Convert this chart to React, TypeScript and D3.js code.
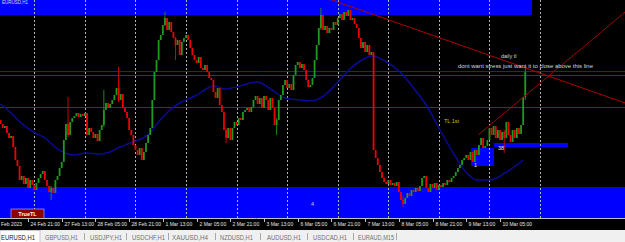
import React from "react";
import * as d3 from "d3";

const W = 625;
const H = 242;

// Hourly closes, EURUSD H1 (bar 0 = 24 Feb 08:00)
const OPEN0 = 1.06;
const CLOSES = [
  1.0596, 1.0592, 1.0594, 1.0587, 1.0582, 1.0584, 1.0573, 1.056, 1.0554, 1.054,
  1.0544, 1.0536, 1.0542, 1.0532, 1.054, 1.0535, 1.053, 1.0537, 1.0542, 1.0546,
  1.0549, 1.054, 1.0534, 1.0528, 1.0532, 1.0527, 1.054, 1.0544, 1.0552, 1.0558,
  1.058, 1.0596, 1.0585, 1.0598, 1.0602, 1.0604, 1.0607, 1.0603, 1.0606, 1.0604,
  1.0607, 1.0585, 1.0592, 1.0588, 1.0582, 1.0586, 1.0579, 1.059, 1.0595, 1.061,
  1.0617, 1.0612, 1.0616, 1.062, 1.0625, 1.0632, 1.062, 1.0626, 1.0612, 1.0608,
  1.0602, 1.059, 1.0585, 1.0575, 1.057, 1.0565, 1.0572, 1.056, 1.0568, 1.0577,
  1.0585, 1.0592, 1.062, 1.0648, 1.066, 1.068, 1.0685, 1.0695, 1.0702, 1.069,
  1.0698, 1.0688, 1.0682, 1.0675, 1.068, 1.0665, 1.0678, 1.0682, 1.0685, 1.068,
  1.0672, 1.0665, 1.066, 1.0657, 1.0663, 1.0652, 1.065, 1.0655, 1.0648, 1.0642,
  1.064, 1.0628, 1.0622, 1.0632, 1.0615, 1.0608, 1.059, 1.0582, 1.0592, 1.058,
  1.0592, 1.0598, 1.0595, 1.0602, 1.06, 1.0608, 1.061, 1.0612, 1.0608, 1.0613,
  1.062, 1.0624, 1.0616, 1.0622, 1.0612, 1.0624, 1.062, 1.061, 1.0622, 1.0612,
  1.0595, 1.06, 1.062, 1.0625, 1.0635, 1.064, 1.0632, 1.0636, 1.063, 1.0645,
  1.0655, 1.0658, 1.0652, 1.0656, 1.065, 1.064, 1.0633, 1.0635, 1.0642, 1.066,
  1.0675, 1.0692, 1.0705, 1.069, 1.0694, 1.0687, 1.0692, 1.069, 1.0698, 1.0695,
  1.0702, 1.0706, 1.07, 1.0708, 1.0704, 1.071, 1.07, 1.0702, 1.0696, 1.0692,
  1.0682, 1.0672, 1.0678, 1.0668, 1.0675, 1.0665, 1.0668, 1.057, 1.0562, 1.0555,
  1.0548, 1.0542, 1.0538, 1.0536, 1.054, 1.0535, 1.0537, 1.0534, 1.0538, 1.0528,
  1.052, 1.0516, 1.0522, 1.0527, 1.0524, 1.053, 1.0528, 1.0532, 1.0529, 1.0534,
  1.0542, 1.0544, 1.0532, 1.0528, 1.0536, 1.0532, 1.0537, 1.053, 1.0535, 1.0533,
  1.0537, 1.0535, 1.054, 1.0538, 1.0542, 1.0544, 1.0548, 1.0552, 1.0555, 1.056,
  1.0562, 1.0565, 1.056, 1.0568, 1.0558, 1.057, 1.0565, 1.0575, 1.0582, 1.0572,
  1.0574, 1.058, 1.0592, 1.0585, 1.0594, 1.0582, 1.059, 1.058, 1.0588, 1.0582,
  1.0598, 1.0585, 1.0578, 1.059, 1.0582, 1.0592, 1.0586, 1.0595, 1.0623, 1.0648,
];

// notable wicks: [bar, high, low]
const WICKS = [
  [24, 1.0534, 1.052], [32, 1.0623, 1.0583], [49, 1.063, 1.0593], [56, 1.0653, 1.0618],
  [78, 1.0708, 1.0694], [83, 1.0683, 1.066], [107, 1.0592, 1.0577], [131, 1.0602, 1.0585],
  [152, 1.0712, 1.069], [191, 1.0524, 1.0513], [239, 1.059, 1.0567], [249, 1.0653, 1.062],
];

// moving average samples
const MA_BARS = [0, 4.5, 9.2, 16.3, 21.1, 25.8, 30.6, 35.3, 40.1, 47.2, 51.9, 56.7, 61.4, 70.9, 75.7, 80.4, 85.1, 92.3, 101.3, 106.5, 113.6, 121.7, 128.8, 135, 142.1, 147.8, 152.5, 160.1, 165.8, 170.6, 176.3, 182.4, 189.6, 196.7, 201.4, 208.5, 215.7, 220.4, 226.1, 232.3, 239.4, 247.9];
const MA_VALUES = [1.0616, 1.0608, 1.0598, 1.0587, 1.0582, 1.0573, 1.0567, 1.0565, 1.0567, 1.0566, 1.0568, 1.0573, 1.0577, 1.0587, 1.06, 1.061, 1.0617, 1.0624, 1.0634, 1.0631, 1.0634, 1.0638, 1.063, 1.0622, 1.062, 1.0619, 1.0623, 1.0638, 1.0651, 1.0659, 1.0664, 1.0659, 1.0648, 1.063, 1.0617, 1.059, 1.0564, 1.0549, 1.054, 1.054, 1.0547, 1.056];

const TICK_LABELS = ["24 Feb 21:00", "27 Feb 13:00", "28 Feb 05:00", "28 Feb 21:00", "1 Mar 13:00", "2 Mar 05:00", "2 Mar 21:00", "3 Mar 13:00", "6 Mar 05:00", "6 Mar 21:00", "7 Mar 13:00", "8 Mar 05:00", "8 Mar 21:00", "9 Mar 13:00", "10 Mar 05:00"];
const DAY_STARTS = [16, 40, 64, 88, 112, 136, 160, 184, 208, 232, 256];

const LEVELS = [1.0649, 1.0645, 1.0613];
// zones: [barStart, barEnd, top, bottom]
const ZONES = [
  [-5, 252.2, 1.0725, 1.0705],
  [-5, 300, 1.0533, 1.0498],
  [223.3, 234.2, 1.0572, 1.0554],
  [234.2, 269.3, 1.0577, 1.0573],
];
const TRENDLINES = [
  [157.3, 1.072, 296.4, 1.0617],
  [226.6, 1.0585, 296.4, 1.0708],
];
const TABS = ["EURUSD,H1", "GBPUSD,H1", "USDJPY,H1", "USDCHF,H1", "XAUUSD,H4", "NZDUSD,H1", "AUDUSD,H1", "USDCAD,H1", "EURAUD,M15"];

export default function App() {
  const x = d3.scaleLinear().domain([13, 237]).range([28, 500]);
  const y = d3.scaleLinear().domain([1.0502, 1.072]).range([218, 0]);
  const bw = 1.8;
  const candles = CLOSES.map((c, i) => ({ i, o: i === 0 ? OPEN0 : CLOSES[i - 1], c }));
  const ma = d3
    .line<number>()
    .x((_, k) => x(MA_BARS[k]))
    .y((v) => y(v))
    .curve(d3.curveMonotoneX)(MA_VALUES) as string;

  const tabX = [1, 45, 90, 132, 172, 220, 267, 313, 358];
  const tabW = [34, 33, 32, 33, 36, 33, 34, 34, 36];
  const sepX = [41, 84, 126, 168, 215, 260, 307, 353, 396];
  const font = "'Liberation Sans', Arial, sans-serif";

  return (
    <svg
      width={W}
      height={H}
      style={{ position: "fixed", left: 0, top: 0, display: "block", background: "#000" }}
    >
      <defs>
        <clipPath id="plot">
          <rect x={0} y={0} width={W} height={218} />
        </clipPath>
      </defs>
      <rect x={0} y={0} width={W} height={H} fill="#000" />
      <g clipPath="url(#plot)">
        {ZONES.map((z, k) => (
          <rect
            key={k}
            x={x(z[0])}
            y={y(z[2])}
            width={x(z[1]) - x(z[0])}
            height={y(z[3]) - y(z[2])}
            fill="#0000ff"
          />
        ))}
        {DAY_STARTS.map((b) => (
          <line
            key={b}
            x1={Math.round(x(b)) + 0.5}
            x2={Math.round(x(b)) + 0.5}
            y1={0}
            y2={218}
            stroke="#b4b4b4"
            strokeWidth={1}
            strokeDasharray="2,2"
          />
        ))}
        <line x1={0} x2={W} y1={Math.round(y(LEVELS[0])) + 0.5} y2={Math.round(y(LEVELS[0])) + 0.5} stroke="#23237a" strokeWidth={1} />
        <line x1={0} x2={W} y1={Math.round(y(LEVELS[1])) + 0.5} y2={Math.round(y(LEVELS[1])) + 0.5} stroke="#9a1010" strokeWidth={1} />
        <line x1={0} x2={W} y1={Math.round(y(LEVELS[2])) + 0.5} y2={Math.round(y(LEVELS[2])) + 0.5} stroke="#9a1010" strokeWidth={1} />
        <path d={ma} fill="none" stroke="#0a0a98" strokeWidth={1.5} />
        {WICKS.map((w) => {
          const c = candles[w[0]];
          const up = c.c >= c.o;
          return (
            <line
              key={"w" + w[0]}
              x1={x(w[0])}
              x2={x(w[0])}
              y1={y(w[1])}
              y2={y(w[2])}
              stroke={up ? "#1a8a1a" : "#d00000"}
              strokeWidth={1}
            />
          );
        })}
        {candles.map((d) => {
          const up = d.c >= d.o;
          const top = y(Math.max(d.o, d.c));
          const h = Math.max(1, Math.abs(y(d.o) - y(d.c)));
          return (
            <rect
              key={d.i}
              x={x(d.i) - bw / 2}
              y={top}
              width={bw}
              height={h}
              fill={up ? "#1f9a1f" : "#f00000"}
            />
          );
        })}
        {TRENDLINES.map((t, k) => (
          <line
            key={"t" + k}
            x1={x(t[0])}
            y1={y(t[1])}
            x2={x(t[2])}
            y2={y(t[3])}
            stroke={k === 0 ? "#b00000" : "#a00000"}
            strokeWidth={1}
          />
        ))}
        <text x={2} y={4} fill="#dcdcdc" fontSize={4.5} fontFamily={font}>EURUSD,H1</text>
        <text x={501} y={58} fill="#d8d8d8" fontSize={5.5} fontFamily={font}>daily tl</text>
        <text x={458} y={68} fill="#d8d8d8" fontSize={5.5} fontFamily={font} textLength={135} lengthAdjust="spacingAndGlyphs">
          dont want stress just want it to  close above this line
        </text>
        <text x={444} y={123} fill="#c8c000" fontSize={5.5} fontFamily={font}>TL 1st</text>
        <text x={498} y={150} fill="#e8e8e8" fontSize={5.5} fontFamily={font}>38</text>
        <text x={474} y={167} fill="#e8e8e8" fontSize={5.5} fontFamily={font}>1</text>
        <text x={311} y={206} fill="#d0d0ff" fontSize={5.5} fontFamily={font}>4</text>
        <rect x={11} y={209} width={33} height={10} fill="#8b0000" stroke="#c8c8c8" strokeWidth={0.6} />
        <text x={27.5} y={216.2} fill="#ffffff" fontSize={5.5} fontWeight="bold" fontFamily={font} textAnchor="middle">TrueTL</text>
      </g>
      <line x1={0} x2={W} y1={218.5} y2={218.5} stroke="#c0c0c0" strokeWidth={1} />
      <text x={1} y={225.5} fill="#e6e6e6" fontSize={5} fontFamily={font}>Feb 2023</text>
      {TICK_LABELS.map((lab, k) => {
        const bx = Math.round(x(13 + 16 * k)) + 0.5;
        return (
          <g key={lab}>
            <line x1={bx} x2={bx} y1={219} y2={222} stroke="#c0c0c0" strokeWidth={1} />
            <text x={bx + 2} y={225.5} fill="#e6e6e6" fontSize={5} fontFamily={font}>{lab}</text>
          </g>
        );
      })}
      <rect x={0} y={230} width={W} height={12} fill="#f0f0f0" />
      <rect x={0} y={230.5} width={40} height={12} fill="#ffffff" stroke="#b0b0b0" strokeWidth={0.6} />
      {TABS.map((t, k) => (
        <text
          key={t}
          x={tabX[k]}
          y={239.5}
          fill={k === 0 ? "#202020" : "#707070"}
          fontSize={6.3}
          fontFamily={font}
          textLength={tabW[k]}
          lengthAdjust="spacingAndGlyphs"
        >
          {t}
        </text>
      ))}
      {sepX.slice(1).map((sx) => (
        <line key={sx} x1={sx + 0.5} x2={sx + 0.5} y1={233} y2={240} stroke="#a8a8a8" strokeWidth={1} />
      ))}
    </svg>
  );
}
